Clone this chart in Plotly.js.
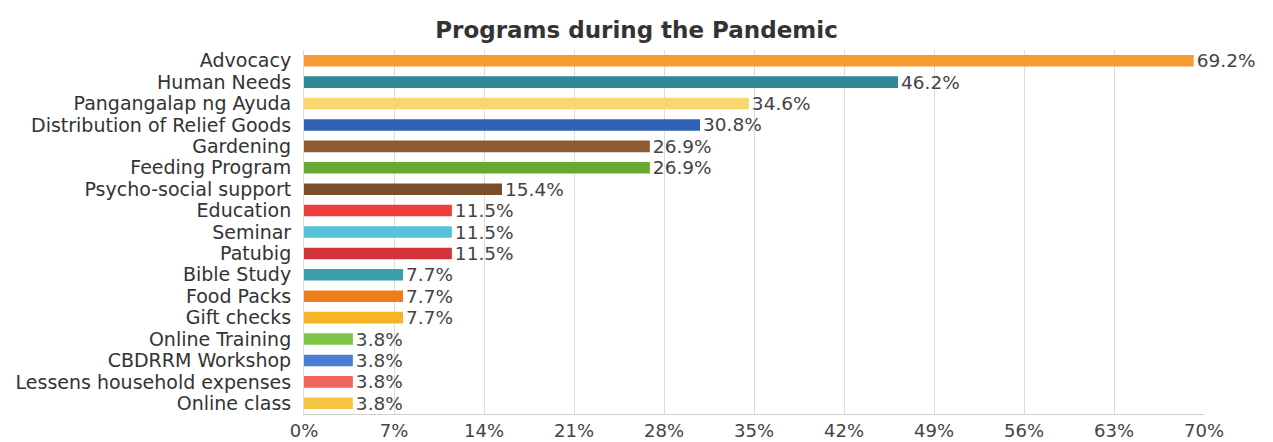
<!DOCTYPE html>
<html>
<head>
<meta charset="utf-8">
<script src="https://cdn.plot.ly/plotly-3.0.1.min.js"></script>
<style>html,body{margin:0;padding:0;background:#fff;}#chart{width:1273px;height:442px;}</style>
</head>
<body>
<div id="chart"></div>
<script>
const categories = ["Advocacy","Human Needs","Pangangalap ng Ayuda","Distribution of Relief Goods","Gardening","Feeding Program","Psycho-social support","Education","Seminar","Patubig","Bible Study","Food Packs","Gift checks","Online Training","CBDRRM Workshop","Lessens household expenses","Online class"];
const values = [69.2,46.2,34.6,30.8,26.9,26.9,15.4,11.5,11.5,11.5,7.7,7.7,7.7,3.8,3.8,3.8,3.8];
const barColors = ["#F89B32","#2E8A94","#F9D66E","#2F62B5","#8C5A33","#66AA32","#7A4E2A","#EC3E3A","#55C3DA","#D2343A","#3A9EAB","#EF7D1A","#F5B524","#7CC443","#4A7FD6","#F2655E","#F6C443"];
const tickVals = [0,7,14,21,28,35,42,49,56,63,70];
const tickText = ["0%","7%","14%","21%","28%","35%","42%","49%","56%","63%","70%"];

const FONT = "DejaVu Sans, Liberation Sans, Arial, sans-serif";

const trace = {
  type: "bar",
  orientation: "h",
  y: categories,
  x: values,
  marker: {color: barColors},
  text: values.map(v => v.toFixed(1) + "%"),
  textposition: "outside",
  constraintext: "none",
  cliponaxis: false,
  textfont: {family: FONT, size: 18.5, color: "#444"},
  hoverinfo: "none"
};

const layout = {
  width: 1273, height: 442,
  margin: {l: 304, r: 69, t: 50, b: 28},
  paper_bgcolor: "#fff", plot_bgcolor: "#fff",
  title: {text: "<b>Programs during the Pandemic</b>", x: 0.5, xanchor: "center", y: 0.932, yanchor: "middle",
          font: {family: FONT, size: 23, color: "#333"}},
  bargap: 0.46,
  showlegend: false,
  xaxis: {range: [0, 70], tickvals: tickVals, ticktext: tickText, showgrid: true, gridcolor: "#dcdcdc", gridwidth: 1,
          zeroline: false, showline: true, linecolor: "#cfcfcf", ticks: "",
          tickfont: {family: FONT, size: 18, color: "#444"}, fixedrange: true},
  yaxis: {autorange: "reversed", type: "category", tickmode: "array", tickvals: categories, ticktext: categories,
          showgrid: false, zeroline: false, showline: true, linecolor: "#dcdcdc",
          ticks: "outside", ticklen: 8, tickcolor: "rgba(0,0,0,0)",
          tickfont: {family: FONT, size: 19, color: "#333"}, fixedrange: true}
};

Plotly.newPlot("chart", [trace], layout, {displayModeBar: false, staticPlot: true});
</script>
</body>
</html>
